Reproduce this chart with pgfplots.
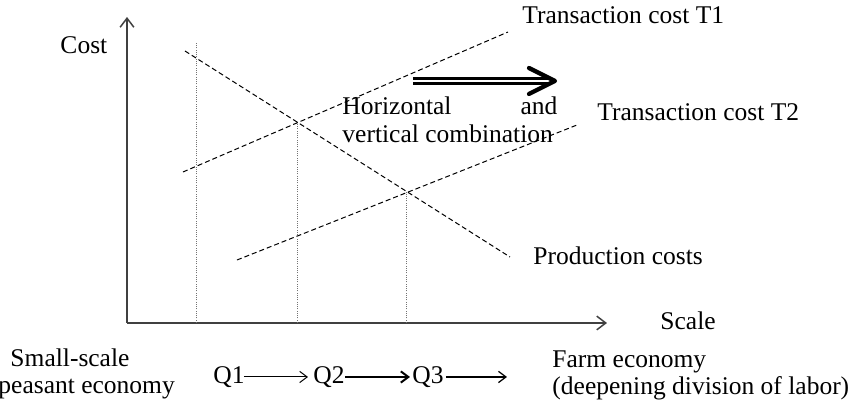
\documentclass[border=0pt]{standalone}
\usepackage{pgfplots}
\pgfplotsset{compat=1.18}
\usepackage{fontspec}
\setmainfont{Liberation Serif}
\usetikzlibrary{arrows.meta}

\begin{document}
\begin{tikzpicture}[font=\fontsize{10.2}{12}\selectfont,
  tx/.style={inner sep=0pt, anchor=base west}]
% page = 858 x 401 units of 0.4pt, axis origin at (127,323) from top left
\useasboundingbox (-50.8pt,-31.2pt) rectangle (292.4pt,129.2pt);
\begin{axis}[
  at={(0pt,0pt)}, anchor=origin,
  x=0.4pt, y=0.4pt,
  xmin=0, xmax=480, ymin=0, ymax=306,
  axis lines=left,
  axis line style={black!75, line width=0.6pt, -{Straight Barb[length=3.6pt,width=5.5pt]}},
  xtick=\empty, ytick=\empty,
  clip=false,
]
% cost curves
\addplot[black, line width=0.4pt, dash pattern=on 2pt off 1.2pt] coordinates {(58,272) (383,66)};
\addplot[black, line width=0.4pt, dash pattern=on 2pt off 1.2pt] coordinates {(56,151) (381,291)};
\addplot[black, line width=0.4pt, dash pattern=on 2pt off 1.2pt] coordinates {(110,63) (450,198)};
% Q1, Q2, Q3 drop lines
\addplot[black!55, line width=0.4pt, dash pattern=on 0.4pt off 0.5pt] coordinates {(70,0) (70,281)};
\addplot[black!55, line width=0.4pt, dash pattern=on 0.4pt off 0.5pt] coordinates {(171,0) (171,200)};
\addplot[black!55, line width=0.4pt, dash pattern=on 0.4pt off 0.5pt] coordinates {(280,0) (280,131)};

% shift arrow
\draw[black, line width=1pt, double, double distance=1pt] (axis cs:286,242) -- (axis cs:422,242);
\draw[black, line width=1.7pt, line cap=round, line join=round]
  (axis cs:402,255) -- (axis cs:428,242) -- (axis cs:402,229);

% labels
\node[tx] at (axis cs:-67,269) {Cost};
\node[tx] at (axis cs:395,299) {Transaction cost T1};
\node[tx] at (axis cs:215,208) {Horizontal};
\node[inner sep=0pt, anchor=base east] at (axis cs:431,208) {and};
\node[tx] at (axis cs:215,180) {vertical combination};
\node[tx] at (axis cs:470,202) {Transaction cost T2};
\node[tx] at (axis cs:406,58) {Production costs};
\node[tx] at (axis cs:533,-7) {Scale};
\node[tx] at (axis cs:-117,-44) {Small-scale};
\node[tx] at (axis cs:-129,-71) {peasant economy};
\node[tx] at (axis cs:425,-45) {Farm economy};
\node[tx] at (axis cs:425,-72) {(deepening division of labor)};

\node[tx] at (axis cs:86,-61) {Q1};
\node[tx] at (axis cs:186,-61) {Q2};
\node[tx] at (axis cs:285,-61) {Q3};
\draw[line width=0.4pt, -{Straight Barb[length=3pt,width=4.5pt]}] (axis cs:117,-54) -- (axis cs:181,-54);
\draw[line width=0.8pt, -{Straight Barb[length=3pt,width=4.5pt]}] (axis cs:218,-54) -- (axis cs:283,-54);
\draw[line width=0.5pt, -{Straight Barb[length=3pt,width=4.5pt]}] (axis cs:319,-54) -- (axis cs:380,-54);
\end{axis}
\end{tikzpicture}
\end{document}
